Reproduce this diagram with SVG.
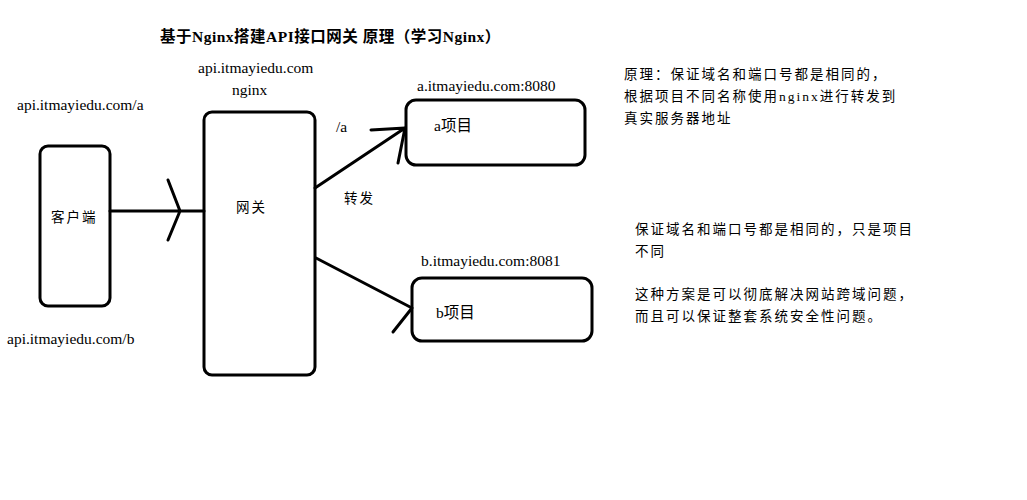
<svg xmlns="http://www.w3.org/2000/svg" width="1027" height="500" viewBox="0 0 1027 500">
<style>
text{font-family:"Liberation Serif","Noto Sans CJK SC",serif;font-size:15.5px;fill:#000}
.cn{font-size:13.5px;letter-spacing:2px}
.box{fill:#fff;stroke:#000;stroke-width:3}
.ln{fill:none;stroke:#000;stroke-width:3;stroke-linecap:round;stroke-linejoin:round}
</style>
<rect width="1027" height="500" fill="#fff"/>
<text x="160" y="42" style="font-size:15.5px;font-weight:bold;letter-spacing:0.5px">基于Nginx搭建API接口网关 原理（学习Nginx）</text>
<text x="17" y="110">api.itmayiedu.com/a</text>
<text x="7" y="344">api.itmayiedu.com/b</text>
<text x="198" y="73">api.itmayiedu.com</text>
<text x="232" y="95">nginx</text>
<text x="417" y="91">a.itmayiedu.com:8080</text>
<text x="421" y="266">b.itmayiedu.com:8081</text>
<text x="336" y="132">/a</text>
<text x="344" y="203" class="cn">转发</text>
<g id="client"><rect class="box" x="40" y="146" width="70" height="160" rx="8"/><text x="51" y="222" class="cn">客户端</text></g>
<g id="gateway"><rect class="box" x="204" y="112" width="111" height="263" rx="8"/><text x="236" y="212" class="cn">网关</text></g>
<g id="a"><rect class="box" x="406" y="100" width="179" height="65" rx="10"/><text x="434" y="131">a项目</text></g>
<g id="b"><rect class="box" x="412" y="278" width="180" height="63" rx="10"/><text x="436" y="318">b项目</text></g>
<g id="connectors">
<path class="ln" d="M110 211H204M168 180L180 211L168 240"/>
<path class="ln" d="M315 188L405 128M371 130L405 128L398 163"/>
<path class="ln" d="M316 258L412 308M393 332L412 308"/>
</g>
<text x="624" y="79" class="cn">原理：保证域名和端口号都是相同的，</text>
<text x="624" y="101" class="cn">根据项目不同名称使用nginx进行转发到</text>
<text x="624" y="123" class="cn">真实服务器地址</text>
<text x="635" y="234" class="cn">保证域名和端口号都是相同的，只是项目</text>
<text x="635" y="256" class="cn">不同</text>
<text x="635" y="299" class="cn">这种方案是可以彻底解决网站跨域问题，</text>
<text x="635" y="321" class="cn">而且可以保证整套系统安全性问题。</text>
</svg>
